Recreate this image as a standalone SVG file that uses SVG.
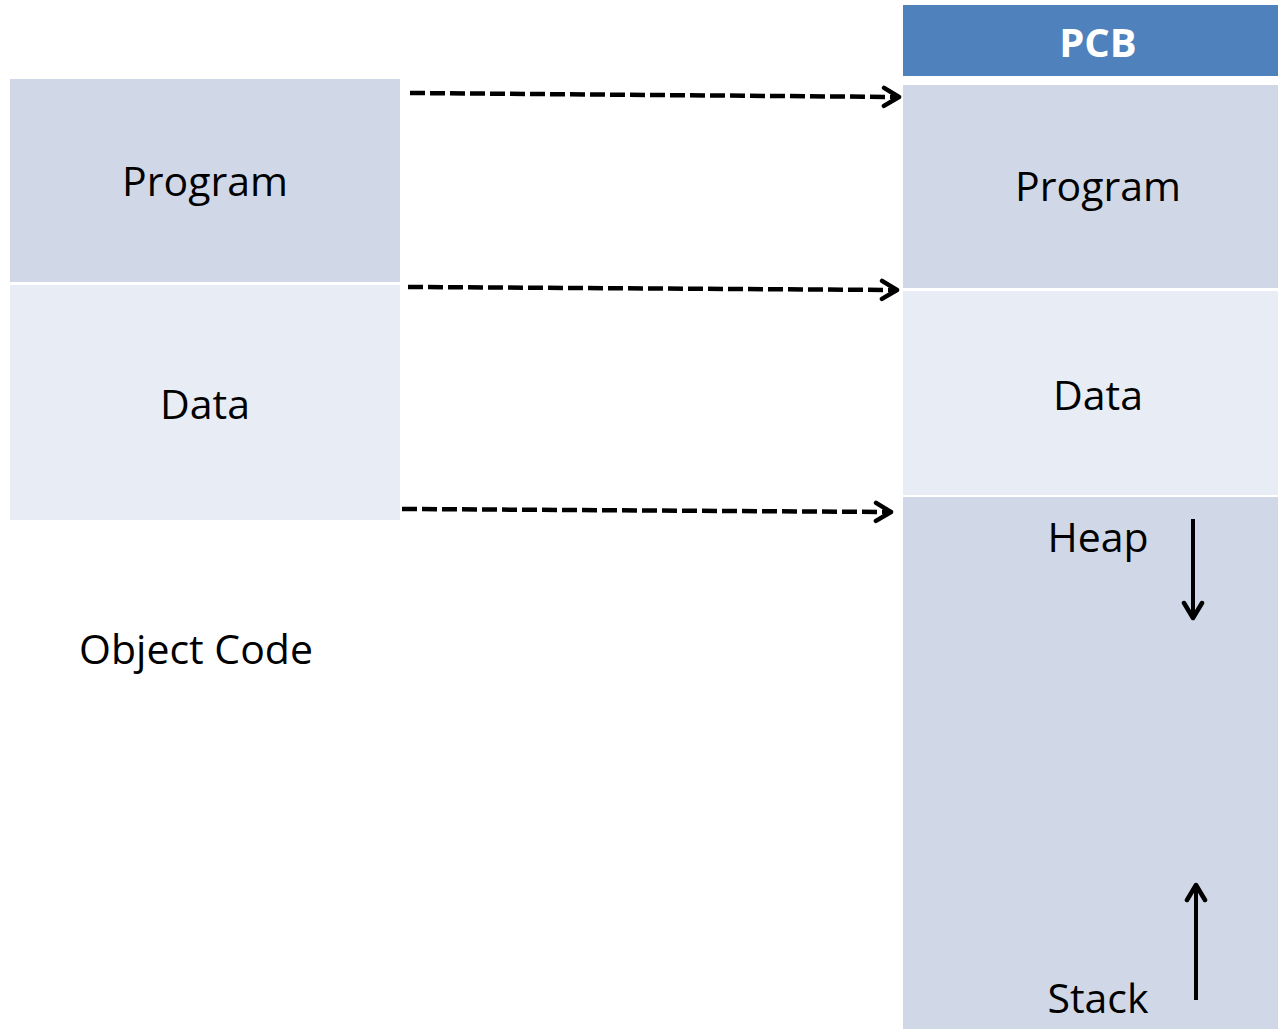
<svg xmlns="http://www.w3.org/2000/svg" width="1278" height="1029" viewBox="0 0 1278 1029">
<style>
.lbl{font-family:"Open Sans","Noto Sans",sans-serif;font-size:41px;fill:#000;text-anchor:middle}
.dk{fill:#d0d8e7}
.lt{fill:#e8ecf4}
.dash{stroke:#000;stroke-width:4.5;stroke-dasharray:15 5;fill:none}
.solid{stroke:#000;stroke-width:4;fill:none}
</style>
<defs>
<marker id="ah" viewBox="0 0 24 24" refX="20" refY="12" markerWidth="24" markerHeight="24" markerUnits="userSpaceOnUse" orient="auto">
<polyline points="5,3 20,12 5,21" fill="none" stroke="#000" stroke-width="4.5" stroke-linecap="round" stroke-linejoin="round"/>
</marker>
</defs>
<rect width="1278" height="1029" fill="#fff"/>
<g id="obj-program"><rect class="dk" x="10" y="79" width="390" height="203"/><text class="lbl" x="205" y="196">Program</text></g>
<g id="obj-data"><rect class="lt" x="10" y="285" width="390" height="235"/><text class="lbl" x="205" y="419">Data</text></g>
<g id="obj-label"><text class="lbl" x="196" y="664">Object Code</text></g>
<g id="pcb"><rect fill="#4f81bd" x="903" y="5" width="375" height="71"/><text x="1098" y="57" font-family="Open Sans,Noto Sans,sans-serif" font-size="40" font-weight="bold" fill="#fff" text-anchor="middle">PCB</text></g>
<g id="pcb-program"><rect class="dk" x="903" y="85" width="375" height="203"/><text class="lbl" x="1098" y="201">Program</text></g>
<g id="pcb-data"><rect class="lt" x="903" y="291" width="375" height="204"/><text class="lbl" x="1098" y="410">Data</text></g>
<g id="pcb-heapstack"><rect class="dk" x="903" y="497" width="375" height="532"/><text class="lbl" x="1098" y="552">Heap</text><text class="lbl" x="1098" y="1013">Stack</text></g>
<g id="connectors">
<line class="dash" x1="410" y1="93" x2="899" y2="97" marker-end="url(#ah)"/>
<line class="dash" x1="408" y1="287" x2="897" y2="290" marker-end="url(#ah)"/>
<line class="dash" x1="402" y1="509" x2="891" y2="512" marker-end="url(#ah)"/>
<line class="solid" x1="1193" y1="519" x2="1193" y2="618" marker-end="url(#ah)"/>
<line class="solid" x1="1196" y1="1000" x2="1196" y2="885" marker-end="url(#ah)"/>
</g>
</svg>
